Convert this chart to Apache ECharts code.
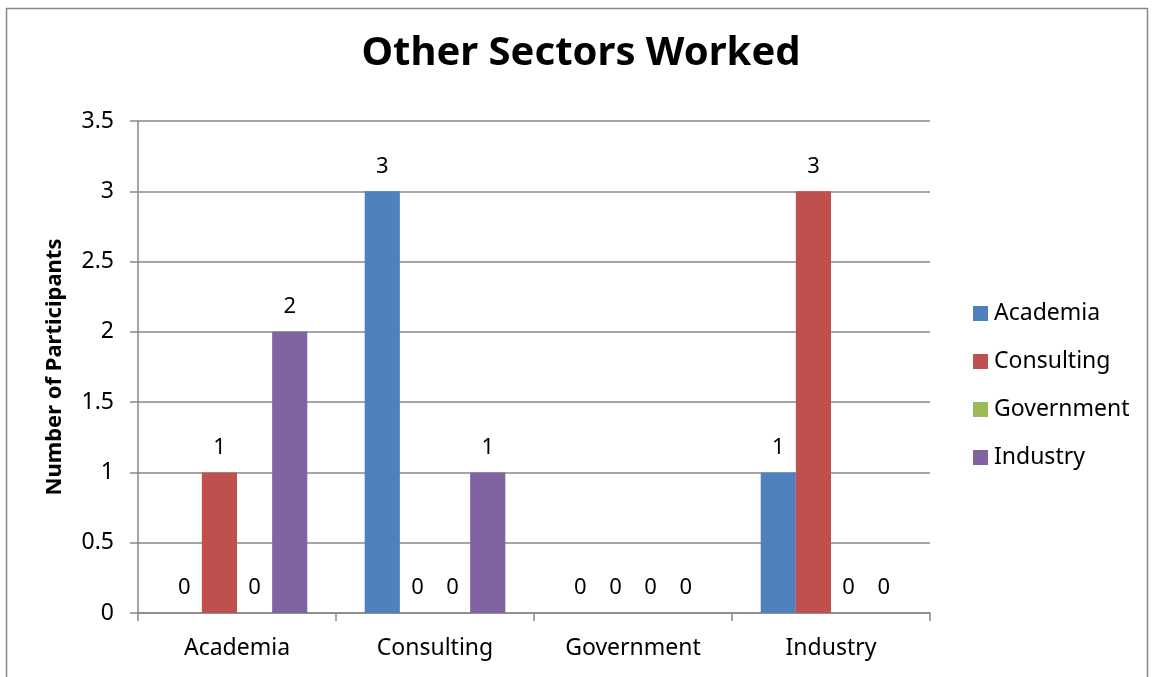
<!DOCTYPE html>
<html><head><meta charset="utf-8">
<script src="https://cdn.jsdelivr.net/npm/echarts@6/dist/echarts.min.js"></script>
<style>html,body{margin:0;padding:0;background:#fff}#c{width:1153px;height:677px}</style>
</head><body><div id="c"></div>
<script>
const categories = ['Academia', 'Consulting', 'Government', 'Industry'];
const seriesNames = ['Academia', 'Consulting', 'Government', 'Industry'];
const academia = [0, 3, 0, 1];
const consulting = [1, 0, 0, 3];
const government = [0, 0, 0, 0];
const industry = [2, 1, 0, 0];
const colors = ['#4F81BD', '#C0504D', '#9BBB59', '#8064A2'];
const values = [academia, consulting, government, industry];
const FONT = 'Noto Sans';

const chart = echarts.init(document.getElementById('c'));
chart.setOption({
  animation: false,
  textStyle: { fontFamily: FONT },
  title: {
    text: 'Other Sectors Worked', left: 581, top: 34, textAlign: 'center', padding: 0,
    textStyle: { fontFamily: FONT, fontSize: 40, fontWeight: 'bold', color: '#000' }
  },
  graphic: [{
    type: 'rect', shape: { x: 6.5, y: 8.5, width: 1141, height: 700 },
    style: { fill: null, stroke: '#888', lineWidth: 1.5 }, silent: true
  }],
  legend: {
    orient: 'vertical', left: 973, top: 302, padding: 0, itemGap: 25, itemWidth: 15, itemHeight: 15,
    icon: 'rect', data: seriesNames,
    textStyle: { fontFamily: FONT, fontSize: 23, color: '#000', padding: [0, 0, 0, 1] }
  },
  grid: { left: 138, right: 223, top: 121, bottom: 64 },
  xAxis: {
    type: 'category', data: categories,
    axisLine: { lineStyle: { color: '#888', width: 1.5 } },
    axisTick: { show: true, length: 8, lineStyle: { color: '#888', width: 1.5 } },
    axisLabel: { fontFamily: FONT, fontSize: 23, color: '#000', margin: 24 }
  },
  yAxis: {
    type: 'value', min: 0, max: 3.5, interval: 0.5,
    name: 'Number of Participants', nameLocation: 'middle', nameGap: 72,
    nameTextStyle: { fontFamily: FONT, fontSize: 22, fontWeight: 'bold', color: '#000' },
    axisLine: { show: true, lineStyle: { color: '#888', width: 1.5 } },
    axisTick: { show: true, length: 8, lineStyle: { color: '#888', width: 1.5 } },
    splitLine: { lineStyle: { color: '#888', width: 1.5 } },
    axisLabel: { fontFamily: FONT, fontSize: 23, color: '#000', margin: 24 }
  },
  series: seriesNames.map((n, i) => ({
    name: n, type: 'bar', data: values[i], barGap: '0%', barCategoryGap: '29%',
    itemStyle: { color: colors[i] },
    label: { show: true, position: 'top', distance: 14, fontFamily: FONT, fontSize: 22, color: '#000' }
  }))
});
</script></body></html>
